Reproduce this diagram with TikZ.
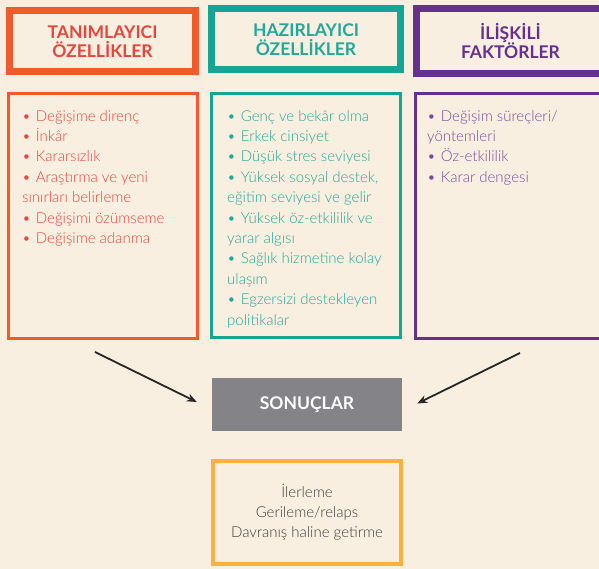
\documentclass[tikz,border=0pt]{standalone}
\usepackage{fontspec}
\setmainfont{Lato}
\newfontfamily\incefont{Lato Light}
\usetikzlibrary{arrows.meta, positioning}
\definecolor{bgbeige}{HTML}{F9EFE1}
\definecolor{tanimcizgi}{HTML}{F15A2B}
\definecolor{tanimyazi}{HTML}{E9463B}
\definecolor{hazircizgi}{HTML}{16A594}
\definecolor{haziryazi}{HTML}{23A897}
\definecolor{iliskicizgi}{HTML}{66308F}
\definecolor{iliskiyazi}{HTML}{7A4A9F}
\definecolor{sonucgri}{HTML}{848488}
\definecolor{ciktisari}{HTML}{FBB040}
\definecolor{yazigri}{HTML}{3C3C3C}
\newcommand{\madde}{\textbullet\hspace{5pt}}

\begin{document}
\begin{tikzpicture}[x=1pt, y=-1pt,
    titlebox/.style={draw, line width=7pt, minimum width=186pt, minimum height=61pt, inner sep=0pt,
        align=center, font=\fontsize{17.5}{19.5}\selectfont\bfseries},
    listbox/.style={draw, line width=3pt, minimum width=189pt, minimum height=245pt, inner sep=0pt},
    listtext/.style={anchor=north west, inner sep=0pt, align=left, font=\incefont\fontsize{15}{20.4}\selectfont},
    arr/.style={-{Stealth[length=10pt, width=8pt]}, line width=1.8pt, black!85}]
    % Background
    \fill[bgbeige] (0,0) rectangle (599,569);
    \useasboundingbox (0,0) rectangle (599,569);
    \clip (0,0) rectangle (599,569);

    % Title boxes
    \node[titlebox, draw=tanimcizgi, text=tanimyazi] (tanim) at (102.5,41.5) {TANIMLAYICI\\ÖZELLİKLER};
    \node[titlebox, draw=hazircizgi, text=haziryazi, minimum width=189pt] (hazir) at (306,39.5) {HAZIRLAYICI\\ÖZELLİKLER};
    \node[titlebox, draw=iliskicizgi, text=iliskicizgi, minimum width=189pt, minimum height=65pt] (iliski) at (510.5,41) {İLİŞKİLİ\\FAKTÖRLER};

    % List boxes
    \node[listbox, draw=tanimcizgi] (tanimkutu) at (103,216) {};
    \node[listbox, draw=hazircizgi, minimum height=244pt] (hazirkutu) at (306,215.5) {};
    \node[listbox, draw=iliskicizgi] (iliskikutu) at (510,216) {};

    \node[listtext, text=tanimyazi] (tanimliste) at (22,110) {\madde Değişime direnç\\
        \madde İnkâr\\
        \madde Kararsızlık\\
        \madde Araştırma ve yeni\\
        sınırları belirleme\\
        \madde Değişimi özümseme\\
        \madde Değişime adanma};
    \node[listtext, text=haziryazi] (hazirliste) at (227,110) {\madde Genç ve bekâr olma\\
        \madde Erkek cinsiyet\\
        \madde Düşük stres seviyesi\\
        \madde Yüksek sosyal destek,\\
        eğitim seviyesi ve gelir\\
        \madde Yüksek öz-etkililik ve\\
        yarar algısı\\
        \madde Sağlık hizmetine kolay\\
        ulaşım\\
        \madde Egzersizi destekleyen\\
        politikalar};
    \node[listtext, text=iliskiyazi] (iliskiliste) at (427,110) {\madde Değişim süreçleri/\\
        yöntemleri\\
        \madde Öz-etkililik\\
        \madde Karar dengesi};

    % Results
    \node[fill=sonucgri, minimum width=190pt, minimum height=53pt, text=white,
        font=\fontsize{17.5}{20}\selectfont\bfseries] (sonuc) at (307,404.5) {SONUÇLAR};
    \node[draw=ciktisari, line width=4pt, minimum width=188pt, minimum height=103pt, align=center,
        text=yazigri, font=\incefont\fontsize{15}{20}\selectfont] (cikti) at (307,512.5) {İlerleme\\Gerileme/relaps\\Davranış haline getirme};

    % Arrows
    \coordinate (okA) at (95,352);
    \coordinate (okB) at (520,353);
    \draw[arr] (okA) -- ([xshift=-15pt, yshift=2.5pt]sonuc.west);
    \draw[arr] (okB) -- ([xshift=15pt, yshift=1pt]sonuc.east);
\end{tikzpicture}
\end{document}
